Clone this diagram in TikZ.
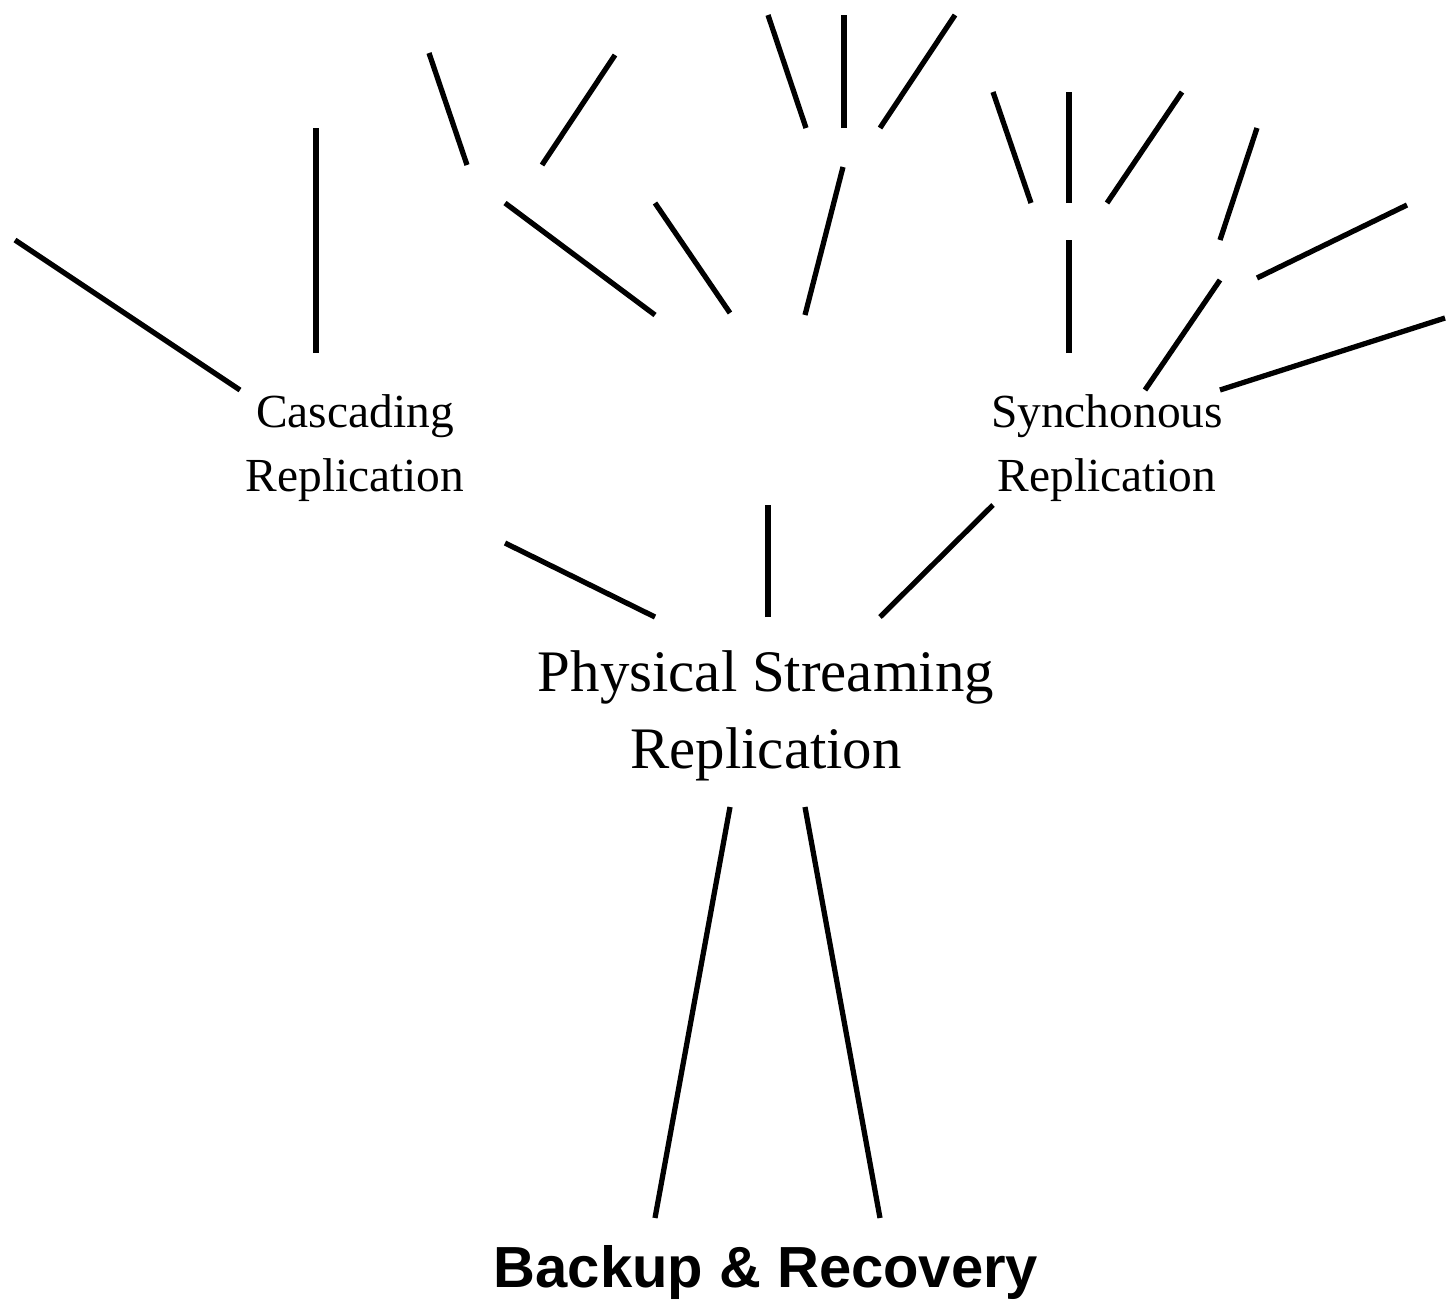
\documentclass[tikz,border=0pt]{standalone}
\usepackage{fontspec}
\setmainfont{Liberation Serif}
\newfontfamily\headfont{Liberation Sans}
\usetikzlibrary{positioning}

\begin{document}
\begin{tikzpicture}[
  x=0.02cm, y=-0.02cm,
  branch/.style={draw=black, line width=3pt},
  topic/.style={align=center, inner sep=0pt,
    font=\fontsize{27}{36}\selectfont},
  maintopic/.style={topic, font=\fontsize{33.5}{44}\selectfont},
  root/.style={inner sep=0pt, font=\headfont\bfseries\fontsize{33}{40}\selectfont}
]
\useasboundingbox (0,0) rectangle (1448,1312);

% ---------- Text nodes ----------
\node[topic]     (casc)   at (355,448)  {Cascading\\Replication};
\node[topic]     (sync)   at (1107,448) {Synchonous\\Replication};
\node[maintopic] (phys)   at (766,716)  {Physical Streaming\\Replication};
\node[root]      (backup) at (766,1272) {Backup \& Recovery};

% ---------- Branches: name / start x,y / end x,y ----------
\foreach \n/\xa/\ya/\xb/\yb in {
  cascL/240/390/15/240,
  cascU/316/353/316/128,
  hubAL/467/165/429/53,
  hubAR/542/165/615/55,
  midL/655/315/505/203,
  midC/730/313/655/203,
  midR/805/315/843/167,
  hubBL/806/128/768/15,
  hubBC/844/128/844/15,
  hubBR/880/128/955/15,
  syncU/1069/353/1069/240,
  hubCL/1031/203/993/92,
  hubCC/1069/203/1069/92,
  hubCR/1107/203/1182/92,
  syncR/1145/390/1220/280,
  hubDU/1220/240/1257/128,
  hubDR/1257/278/1407/205,
  syncE/1220/390/1445/318,
  physL/655/617/505/543,
  physC/768/617/768/505,
  physR/880/617/993/505,
  backL/655/1218/730/807,
  backR/880/1218/805/807}{
  \coordinate (\n-a) at (\xa,\ya);
  \coordinate (\n-b) at (\xb,\yb);
  \draw[branch] (\n-a) -- (\n-b);
}

\end{tikzpicture}
\end{document}
